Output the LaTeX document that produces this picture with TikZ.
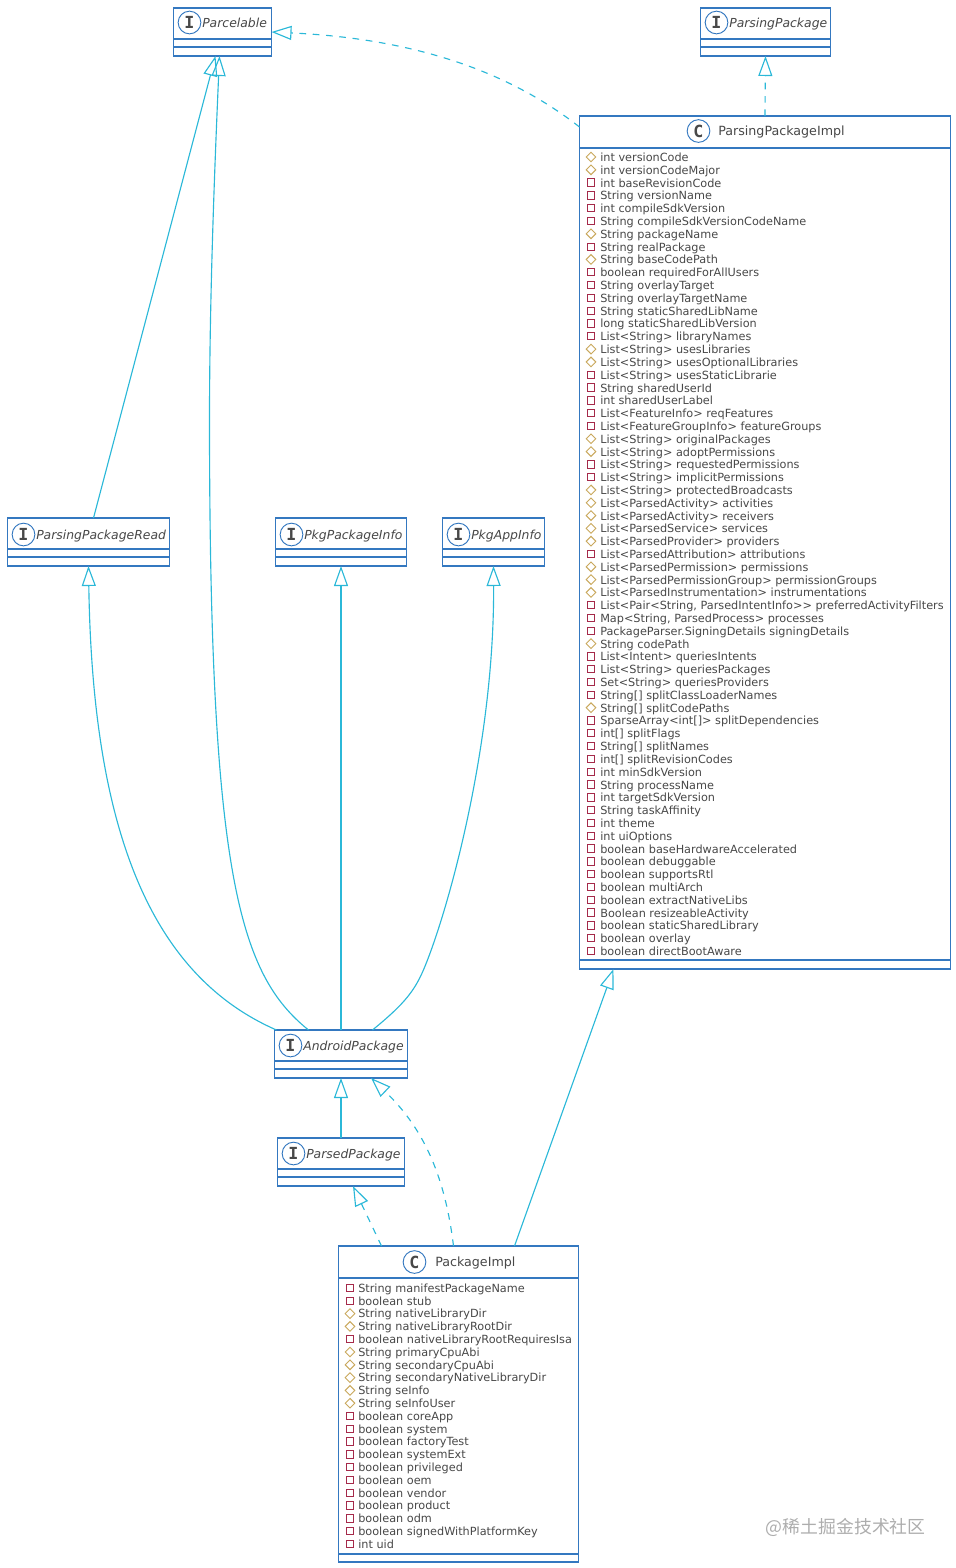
\documentclass[tikz,border=0pt]{standalone}
\usepackage{fontspec}
\setmainfont{DejaVu Sans}
\newfontfamily\badgefont{DejaVu Sans Mono}
\newfontfamily\cjkfont{Noto Sans CJK SC}
\usetikzlibrary{arrows.meta,shapes.geometric}
\definecolor{boxblue}{HTML}{3478C0}
\definecolor{linkcyan}{HTML}{2BB8D8}
\definecolor{inkgray}{HTML}{484848}
\definecolor{privred}{HTML}{A52A4A}
\definecolor{protgold}{HTML}{C9A85C}
\tikzset{
  umlbox/.style={draw=boxblue, line width=1.2pt, fill=white, rectangle, anchor=north west, inner sep=0pt, outer sep=0pt},
  umlsep/.style={draw=boxblue, line width=1.2pt},
  badge/.style={draw=boxblue, fill=white, circle, line width=0.7pt, minimum size=17pt, inner sep=0pt, text=inkgray, font=\badgefont\bfseries\fontsize{12.5}{13}\selectfont},
  ifacename/.style={anchor=base west, inner sep=0pt, text=inkgray, font=\itshape\fontsize{9.3}{11}\selectfont},
  classname/.style={anchor=base west, inner sep=0pt, text=inkgray, font=\fontsize{9.5}{11}\selectfont},
  fieldname/.style={anchor=base west, inner sep=0pt, text=inkgray, font=\fontsize{8.45}{10}\selectfont},
  privfield/.style={draw=privred, rectangle, line width=0.7pt, minimum size=5.5pt, inner sep=0pt},
  protfield/.style={draw=protgold, diamond, line width=0.7pt, minimum size=7.5pt, inner sep=0pt},
  extends/.style={draw=linkcyan, line width=0.85pt, -{Triangle[open,length=15pt,width=10.5pt]}},
  implements/.style={extends, dash pattern=on 5pt off 5pt}
}
\begin{document}
\begin{tikzpicture}[x=0.75pt, y=-0.75pt]
    \useasboundingbox (-0.5,0) rectangle (955.5,1568);

    % interfaces
    \foreach \id/\bx/\by/\ny/\bw/\txt in {Parcelable/173/8/27/98/Parcelable, ParsingPkg/700/8/27/130/ParsingPackage,
      PkgRead/7/518/539/162/ParsingPackageRead, PkgInfo/275/518/539/131/PkgPackageInfo, AppInfo/442/518/539/102/PkgAppInfo,
      Android/274/1030/1050/133/AndroidPackage, Parsed/277/1138/1158/127/ParsedPackage} {
      \node[umlbox, minimum width=\bw*0.75pt, minimum height=36pt] (\id) at (\bx,\by) {};
      \draw[umlsep] (\bx,\by+31) -- (\bx+\bw,\by+31);
      \draw[umlsep] (\bx,\by+39) -- (\bx+\bw,\by+39);
      \node[badge] (\id-badge) at (\bx+16,\ny-4.5) {I};
      \node[ifacename] (\id-name) at (\bx+28.5,\ny) {\txt};
    }

    % ParsingPackageImpl
    \node[umlbox, minimum width=278.25pt, minimum height=639.75pt] (Impl) at (579,116) {};
    \draw[umlsep] (579,148) -- (950,148);
    \draw[umlsep] (579,960) -- (950,960);
    \node[badge] (Impl-badge) at (698,131) {C};
    \node[classname] (Impl-name) at (717.5,135) {ParsingPackageImpl};
    \foreach \kind/\txt [count=\i from 0] in {protfield/int versionCode, protfield/int versionCodeMajor,
      privfield/int baseRevisionCode, privfield/String versionName, privfield/int compileSdkVersion,
      privfield/String compileSdkVersionCodeName, protfield/String packageName, privfield/String realPackage,
      protfield/String baseCodePath, privfield/boolean requiredForAllUsers, privfield/String overlayTarget,
      privfield/String overlayTargetName, privfield/String staticSharedLibName, privfield/long staticSharedLibVersion,
      privfield/List<String> libraryNames, protfield/List<String> usesLibraries, protfield/List<String> usesOptionalLibraries,
      privfield/List<String> usesStaticLibrarie, privfield/String sharedUserId, privfield/int sharedUserLabel,
      privfield/List<FeatureInfo> reqFeatures, privfield/List<FeatureGroupInfo> featureGroups,
      protfield/List<String> originalPackages, protfield/List<String> adoptPermissions,
      privfield/List<String> requestedPermissions, privfield/List<String> implicitPermissions,
      protfield/List<String> protectedBroadcasts, protfield/List<ParsedActivity> activities,
      protfield/List<ParsedActivity> receivers, protfield/List<ParsedService> services,
      protfield/List<ParsedProvider> providers, privfield/List<ParsedAttribution> attributions,
      protfield/List<ParsedPermission> permissions, protfield/List<ParsedPermissionGroup> permissionGroups,
      protfield/List<ParsedInstrumentation> instrumentations, privfield/{List<Pair<String, ParsedIntentInfo>{}> preferredActivityFilters},
      privfield/{Map<String, ParsedProcess> processes}, privfield/PackageParser.SigningDetails signingDetails,
      protfield/String codePath, privfield/List<Intent> queriesIntents, privfield/List<String> queriesPackages,
      privfield/Set<String> queriesProviders, privfield/String[] splitClassLoaderNames, protfield/String[] splitCodePaths,
      privfield/SparseArray<int[]> splitDependencies, privfield/int[] splitFlags, privfield/String[] splitNames,
      privfield/int[] splitRevisionCodes, privfield/int minSdkVersion, privfield/String processName,
      privfield/int targetSdkVersion, privfield/String taskAffinity, privfield/int theme, privfield/int uiOptions,
      privfield/boolean baseHardwareAccelerated, privfield/boolean debuggable, privfield/boolean supportsRtl,
      privfield/boolean multiArch, privfield/boolean extractNativeLibs, privfield/Boolean resizeableActivity,
      privfield/boolean staticSharedLibrary, privfield/boolean overlay, privfield/boolean directBootAware} {
      \node[\kind] (ImplMark\i) at (590.5,157+\i*12.806) {};
      \node[fieldname] (ImplField\i) at (599.5,161.5+\i*12.806) {\txt};
    }

    % PackageImpl
    \node[umlbox, minimum width=180pt, minimum height=237pt] (PkgImpl) at (338,1246) {};
    \draw[umlsep] (338,1278) -- (578,1278);
    \draw[umlsep] (338,1554) -- (578,1554);
    \node[badge] (PkgImpl-badge) at (414,1262) {C};
    \node[classname] (PkgImpl-name) at (434.5,1266) {PackageImpl};
    \foreach \kind/\txt [count=\i from 0] in {privfield/String manifestPackageName, privfield/boolean stub,
      protfield/String nativeLibraryDir, protfield/String nativeLibraryRootDir, privfield/boolean nativeLibraryRootRequiresIsa,
      protfield/String primaryCpuAbi, protfield/String secondaryCpuAbi, protfield/String secondaryNativeLibraryDir,
      protfield/String seInfo, protfield/String seInfoUser, privfield/boolean coreApp, privfield/boolean system,
      privfield/boolean factoryTest, privfield/boolean systemExt, privfield/boolean privileged, privfield/boolean oem,
      privfield/boolean vendor, privfield/boolean product, privfield/boolean odm, privfield/boolean signedWithPlatformKey,
      privfield/int uid} {
      \node[\kind] (PkgMark\i) at (349.5,1288+\i*12.8) {};
      \node[fieldname] (PkgField\i) at (357.5,1292.3+\i*12.8) {\txt};
    }

    % links up to Parcelable
    \draw[extends] ([shift={(86,0)}]PkgRead.north west) -- ([shift={(-7,0)}]Parcelable.south);
    \draw[extends] ([shift={(34,0)}]Android.north west) .. controls (240,975) and (209,880) .. (209,420)
      .. controls (209,300) and (214,170) .. ([shift={(-3,0)}]Parcelable.south);
    \draw[implements] ([shift={(0,11)}]Impl.north west) .. controls (500,65) and (400,38) .. (Parcelable.east);
    \draw[implements] (Impl.north) -- (ParsingPkg.south);

    % links up from AndroidPackage
    \draw[extends] ([shift={(2,0)}]Android.north west) .. controls (150,975) and (92,830) .. (PkgRead.south);
    \draw[extends] (Android.north) -- (PkgInfo.south);
    \draw[extends] ([shift={(98,0)}]Android.north west) .. controls (405,1003) and (415,990) .. (425,965)
      .. controls (450,903) and (494,740) .. (AppInfo.south);
    \draw[extends] (Parsed.north) -- (Android.south);

    % links up from the two classes
    \draw[implements] ([shift={(115,0)}]PkgImpl.north west) .. controls (445,1180) and (425,1130) .. ([shift={(30,0)}]Android.south);
    \draw[implements] ([shift={(43,0)}]PkgImpl.north west) -- ([shift={(12,0)}]Parsed.south);
    \draw[extends] ([shift={(176,0)}]PkgImpl.north west) -- ([shift={(34,0)}]Impl.south west);

    % watermark
    \node[anchor=west, inner sep=0pt, text=black!32, font=\cjkfont\fontsize{13.4}{15}\selectfont] (mark) at (765,1527) {@稀土掘金技术社区};
\end{tikzpicture}
\end{document}
